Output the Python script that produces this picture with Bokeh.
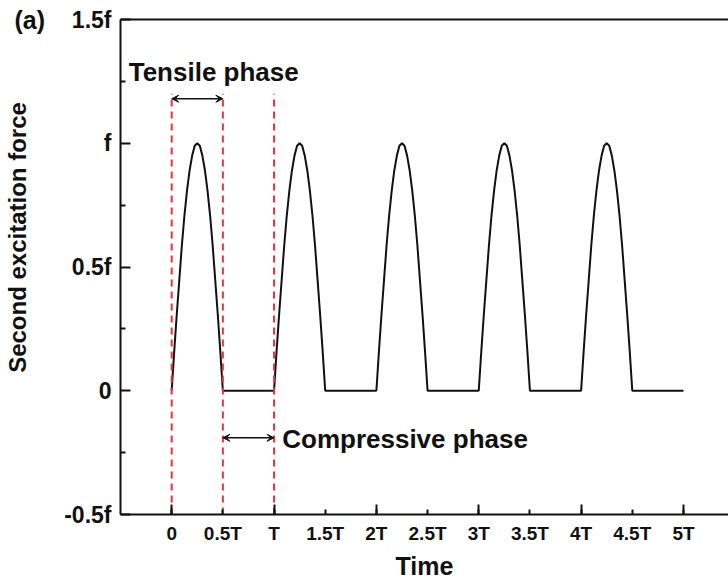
from bokeh.plotting import figure
from bokeh.models import (Range1d, FixedTicker, LinearAxis, Label, Arrow, VeeHead)
from bokeh.embed import file_html
from bokeh.resources import INLINE

# ---- data ----
periods = [0, 1, 2, 3, 4]                    # cycle index (in units of T)
pulse_t = [0.0, 0.025, 0.05, 0.075, 0.1, 0.125, 0.15, 0.175, 0.2, 0.225, 0.25,
           0.275, 0.3, 0.325, 0.35, 0.375, 0.4, 0.425, 0.45, 0.475, 0.5]
pulse_f = [0.0, 0.16, 0.31, 0.45, 0.59, 0.71, 0.81, 0.89, 0.95, 0.99, 1.0,
           0.99, 0.95, 0.89, 0.81, 0.71, 0.59, 0.45, 0.31, 0.16, 0.0]
flat_t = [0.5, 1.0]                          # compressive phase (force = 0)
flat_f = [0.0, 0.0]

phase_marks = [0.0, 0.5, 1.0]                # red dashed boundaries
mark_top = 1.2
tensile_span = (0.0, 0.5, 1.18)
compressive_span = (0.5, 1.0, -0.19)

x_ticks = [0, 0.5, 1, 1.5, 2, 2.5, 3, 3.5, 4, 4.5, 5]
x_labels = ["0", "0.5T", "T", "1.5T", "2T", "2.5T", "3T", "3.5T", "4T", "4.5T", "5T"]
y_ticks = [-0.5, 0, 0.5, 1, 1.5]
y_labels = ["-0.5f", "0", "0.5f", "f", "1.5f"]

# build the waveform
xs, ys = [], []
for n in periods:
    for t, f in zip(pulse_t, pulse_f):
        xs.append(n + t); ys.append(f)
    for t, f in zip(flat_t, flat_f):
        xs.append(n + t); ys.append(f)

FONT = "Liberation Sans"

p = figure(width=728, height=582, output_backend="svg", toolbar_location=None,
           x_range=Range1d(-0.5, 5.44), y_range=Range1d(-0.5, 1.5),
           min_border_left=120, min_border_right=0, min_border_top=19,
           min_border_bottom=67, x_axis_location=None, y_axis_location=None)
p.grid.visible = False
p.outline_line_color = None
p.background_fill_color = "white"
p.border_fill_color = "white"

# bottom axis
xax = LinearAxis(ticker=FixedTicker(ticks=x_ticks, minor_ticks=[0, 1, 2, 3, 4, 5]))
xax.major_label_overrides = {t: l for t, l in zip(x_ticks, x_labels)}
xax.axis_label = "Time"
# left axis
yax = LinearAxis(ticker=FixedTicker(ticks=y_ticks, minor_ticks=[-0.25, 0.25, 0.75, 1.25]))
yax.major_label_overrides = {t: l for t, l in zip(y_ticks, y_labels)}
for ax in (xax, yax):
    ax.axis_line_width = 2
    ax.axis_line_color = "#111111"
    ax.major_tick_line_color = "#111111"
    ax.minor_tick_line_color = "#111111"
    ax.major_tick_line_width = 2
    ax.minor_tick_line_width = 2
    ax.major_tick_out = 0
    ax.minor_tick_out = 0
    ax.major_label_text_font = FONT
    ax.major_label_text_font_style = "bold"
    ax.major_label_text_color = "#111111"
    ax.axis_label_text_font = FONT
    ax.axis_label_text_font_style = "bold"
    ax.axis_label_text_color = "#111111"

xax.major_tick_in = 5
xax.minor_tick_in = 10
xax.major_label_text_font_size = "19px"
xax.major_label_standoff = 8
xax.axis_label_text_font_size = "25px"
xax.axis_label_standoff = 5

yax.major_tick_in = 10
yax.minor_tick_in = 5
yax.major_label_text_font_size = "23px"
yax.major_label_standoff = 9

p.add_layout(xax, "below")
p.add_layout(yax, "left")

# top border line
top = LinearAxis(ticker=FixedTicker(ticks=[]), axis_line_width=2, axis_line_color="#111111",
                 major_tick_in=0, major_tick_out=0, minor_tick_in=0, minor_tick_out=0,
                 major_label_text_font_size="0px")
p.add_layout(top, "above")

# waveform
p.line(xs, ys, line_color="#111111", line_width=2)

# red dashed boundaries
p.segment(x0=phase_marks, y0=[-0.5] * len(phase_marks), x1=phase_marks,
          y1=[mark_top] * len(phase_marks), line_color="#e8323c", line_width=2,
          line_dash="7 5")

# arrows
for (a, b, yy) in (tensile_span, compressive_span):
    p.add_layout(Arrow(x_start=a, y_start=yy, x_end=b, y_end=yy,
                       line_color="#111111", line_width=1.5,
                       start=VeeHead(size=7, fill_color="#111111", line_color="#111111", line_width=1),
                       end=VeeHead(size=7, fill_color="#111111", line_color="#111111", line_width=1)))

p.add_layout(Label(x=-0.42, y=1.288, text="Tensile phase", text_font=FONT,
                   text_font_style="bold", text_font_size="26px", text_color="#111111",
                   text_baseline="alphabetic", text_align="left"))
p.add_layout(Label(x=1.08, y=-0.194, text="Compressive phase", text_font=FONT,
                   text_font_style="bold", text_font_size="26px", text_color="#111111",
                   text_baseline="alphabetic", text_align="left"))

# y axis title and panel tag, in the left side panel
p.add_layout(Label(x=-17, y=277, x_units="screen", y_units="screen",
                   text="Second excitation force", angle=1.5708, text_font=FONT,
                   text_font_style="bold", text_font_size="24px", text_color="#111111",
                   text_align="center", text_baseline="middle"), "left")
p.add_layout(Label(x=11, y=495, x_units="screen", y_units="screen",
                   text="(a)", text_font=FONT,
                   text_font_style="bold", text_font_size="25px", text_color="#111111",
                   text_align="left", text_baseline="middle"), "left")

open("out.html", "w").write(file_html(p, INLINE))
